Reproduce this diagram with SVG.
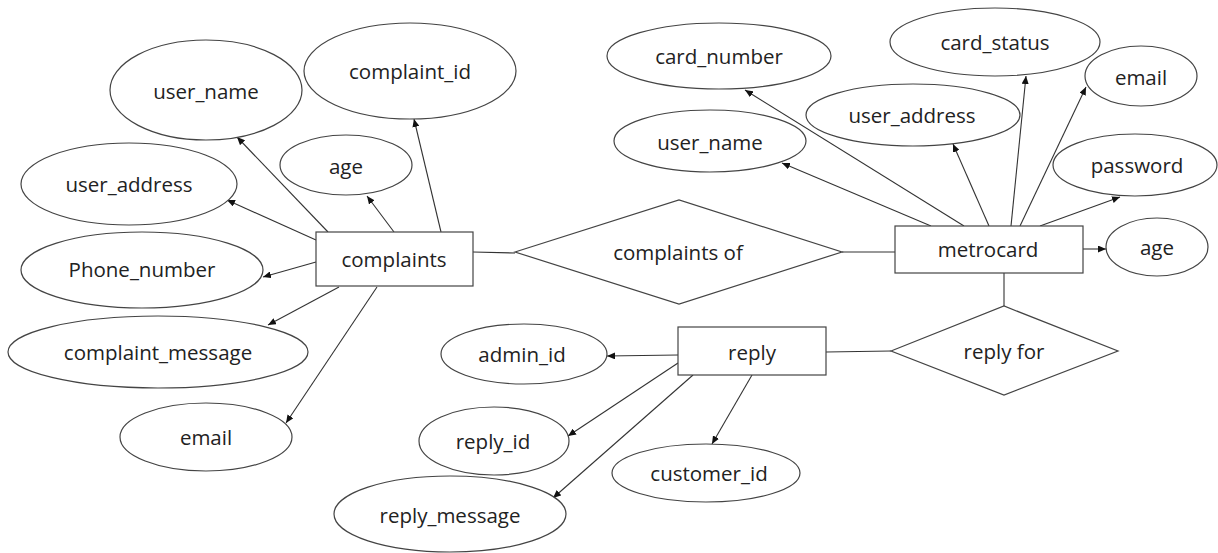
<svg xmlns="http://www.w3.org/2000/svg" width="1218" height="553" viewBox="0 0 1218 553">
<style>
.shape{fill:#fff;stroke:#444;stroke-width:1.2}
.lbl{font-family:"Open Sans","Noto Sans",sans-serif;font-size:20.5px;fill:#222;text-anchor:middle;dominant-baseline:central}
.conn line{stroke:#333;stroke-width:1.1}
.arr{marker-end:url(#ah)}
</style>
<defs>
<marker id="ah" markerUnits="userSpaceOnUse" markerWidth="9" markerHeight="7" refX="8" refY="3.5" orient="auto">
<path d="M0,0 L8,3.5 L0,7 z" fill="#111"/>
</marker>
</defs>
<rect width="1218" height="553" fill="#fff"/>
<g id="connectors" class="conn">
<line class="arr" x1="328" y1="232" x2="237" y2="137"/>
<line class="arr" x1="441" y1="232" x2="414" y2="119"/>
<line class="arr" x1="394" y1="232" x2="367" y2="196"/>
<line class="arr" x1="316" y1="240" x2="227" y2="200"/>
<line class="arr" x1="316" y1="262" x2="263" y2="277"/>
<line class="arr" x1="339" y1="287" x2="268" y2="325"/>
<line class="arr" x1="377" y1="287" x2="286" y2="423"/>
<line x1="473" y1="252" x2="515" y2="253"/>
<line x1="842" y1="252" x2="895" y2="252"/>
<line class="arr" x1="964" y1="226" x2="745" y2="90"/>
<line class="arr" x1="931" y1="226" x2="782" y2="163"/>
<line class="arr" x1="989" y1="226" x2="953" y2="144"/>
<line class="arr" x1="1011" y1="226" x2="1026" y2="76"/>
<line class="arr" x1="1020" y1="226" x2="1086" y2="87"/>
<line class="arr" x1="1040" y1="226" x2="1120" y2="197"/>
<line class="arr" x1="1083" y1="249" x2="1106" y2="249"/>
<line x1="1004" y1="273" x2="1004" y2="306"/>
<line x1="826" y1="352" x2="891" y2="351"/>
<line class="arr" x1="678" y1="355" x2="607" y2="356"/>
<line class="arr" x1="678" y1="363" x2="568" y2="436"/>
<line class="arr" x1="693" y1="375" x2="553" y2="498"/>
<line class="arr" x1="752" y1="375" x2="712" y2="444"/>
</g>
<g id="complaints"><rect class="shape" x="316" y="232" width="157" height="54"/><text class="lbl" x="394" y="259">complaints</text></g>
<g id="c_user_name"><ellipse class="shape" cx="206" cy="90" rx="96" ry="50"/><text class="lbl" x="206" y="91">user_name</text></g>
<g id="c_complaint_id"><ellipse class="shape" cx="410" cy="71" rx="106" ry="48"/><text class="lbl" x="410" y="71">complaint_id</text></g>
<g id="c_age"><ellipse class="shape" cx="346" cy="165" rx="66" ry="30"/><text class="lbl" x="346" y="166">age</text></g>
<g id="c_user_address"><ellipse class="shape" cx="129" cy="184" rx="108" ry="41"/><text class="lbl" x="129" y="184">user_address</text></g>
<g id="c_phone_number"><ellipse class="shape" cx="142" cy="270" rx="121" ry="38"/><text class="lbl" x="142" y="269">Phone_number</text></g>
<g id="c_complaint_message"><ellipse class="shape" cx="158" cy="352" rx="150" ry="36"/><text class="lbl" x="158" y="352">complaint_message</text></g>
<g id="c_email"><ellipse class="shape" cx="206" cy="437" rx="86" ry="34"/><text class="lbl" x="206" y="437">email</text></g>
<g id="complaints_of"><polygon class="shape" points="515,252 679,200 842,252 679,304"/><text class="lbl" x="678" y="252">complaints of</text></g>
<g id="metrocard"><rect class="shape" x="895" y="226" width="188" height="47"/><text class="lbl" x="988" y="249">metrocard</text></g>
<g id="m_card_number"><ellipse class="shape" cx="719" cy="56" rx="112" ry="33"/><text class="lbl" x="719" y="56">card_number</text></g>
<g id="m_user_name"><ellipse class="shape" cx="710" cy="141" rx="96" ry="31"/><text class="lbl" x="710" y="142">user_name</text></g>
<g id="m_user_address"><ellipse class="shape" cx="913" cy="115" rx="107" ry="31"/><text class="lbl" x="912" y="115">user_address</text></g>
<g id="m_card_status"><ellipse class="shape" cx="995" cy="42" rx="105" ry="34"/><text class="lbl" x="995" y="42">card_status</text></g>
<g id="m_email"><ellipse class="shape" cx="1141" cy="76" rx="56" ry="30"/><text class="lbl" x="1141" y="77">email</text></g>
<g id="m_password"><ellipse class="shape" cx="1135" cy="165" rx="82" ry="31"/><text class="lbl" x="1137" y="165">password</text></g>
<g id="m_age"><ellipse class="shape" cx="1157" cy="247" rx="51" ry="29"/><text class="lbl" x="1157" y="247">age</text></g>
<g id="reply_for"><polygon class="shape" points="891,351 1004,306 1118,351 1004,395"/><text class="lbl" x="1004" y="351">reply for</text></g>
<g id="reply"><rect class="shape" x="678" y="327" width="148" height="48"/><text class="lbl" x="752" y="352">reply</text></g>
<g id="r_admin_id"><ellipse class="shape" cx="524" cy="354" rx="83" ry="30"/><text class="lbl" x="522" y="354">admin_id</text></g>
<g id="r_reply_id"><ellipse class="shape" cx="494" cy="441" rx="75" ry="34"/><text class="lbl" x="493" y="441">reply_id</text></g>
<g id="r_customer_id"><ellipse class="shape" cx="706" cy="473" rx="94" ry="29"/><text class="lbl" x="709" y="473">customer_id</text></g>
<g id="r_reply_message"><ellipse class="shape" cx="450" cy="514" rx="116" ry="38"/><text class="lbl" x="450" y="515">reply_message</text></g>
</svg>
